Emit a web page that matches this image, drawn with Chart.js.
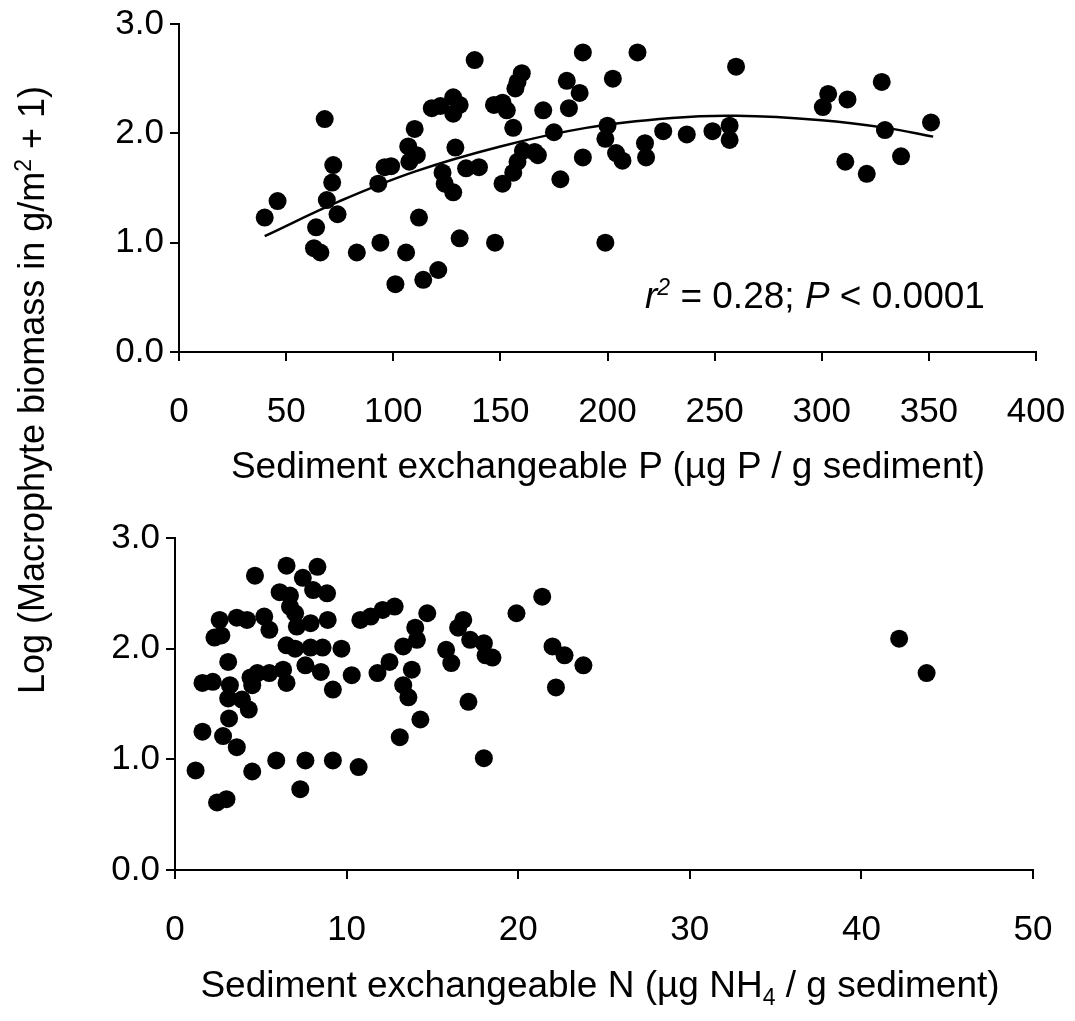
<!DOCTYPE html>
<html>
<head>
<meta charset="utf-8">
<title>Macrophyte biomass vs sediment nutrients</title>
<script src="https://cdn.jsdelivr.net/npm/chart.js@4.4.1/dist/chart.umd.min.js"></script>
<style>
  body { margin: 0; background: #fff; }
  #wrap { position: relative; width: 1075px; height: 1021px; overflow: hidden;
          font-family: "Liberation Sans", Arial, sans-serif; color: #000; }
  canvas { position: absolute; left: 0; }
  .txt { position: absolute; font-size: 37px; line-height: 40px; white-space: nowrap; }
  .ytitle { left: -318px; top: 370px; width: 700px; text-align: center; transform: rotate(-90deg); font-size: 36px; }
  .xtitle { width: 1000px; text-align: center; }
  sup, sub { font-size: 23px; line-height: 0; }
</style>
</head>
<body>
<div id="wrap">
  <canvas id="topChart" width="1075" height="500" style="top:0"></canvas>
  <canvas id="bottomChart" width="1075" height="521" style="top:500px"></canvas>
  <div class="txt ytitle">Log (Macrophyte biomass in g/m<sup>2</sup> + 1)</div>
  <div class="txt xtitle" style="left:108px; top:446px">Sediment exchangeable P (µg P / g sediment)</div>
  <div class="txt xtitle" style="left:100px; top:965px">Sediment exchangeable N (µg NH<sub>4</sub> / g sediment)</div>
  <div class="txt" style="left:645px; top:276px"><i>r</i><sup><i>2</i></sup> = 0.28; <i>P</i> &lt; 0.0001</div>
</div>
<script>
// exchangeable P (µg P / g sediment) and log biomass for each site
const phosX = [40, 46, 63, 64, 66, 68, 69, 71.5, 72, 74, 83, 93, 94, 96, 99, 101, 106, 107, 107.5, 110,
  111, 112, 114, 118, 121, 122, 123, 124, 128, 128, 128, 129, 131, 131, 134, 138, 140, 147, 147.5, 151,
  151, 153, 156, 156, 157, 158, 158, 160, 160.5, 166, 167.5, 170, 175, 178, 181, 182, 187, 188.5, 188.5, 199,
  199, 200, 202.5, 204, 207, 214, 217.5, 218, 226, 237, 249, 257, 257, 260, 300.5, 303, 311, 312, 321, 328,
  329.5, 337, 351];
const phosBiomass = [1.23, 1.38, 0.95, 1.14, 0.91, 2.13, 1.39, 1.55, 1.71, 1.26, 0.91, 1.54, 1.00, 1.69, 1.70, 0.62, 0.91, 1.88, 1.74, 2.04,
  1.80, 1.23, 0.66, 2.23, 0.75, 2.25, 1.64, 1.54, 2.33, 2.18, 1.46, 1.87, 2.26, 1.04, 1.68, 2.67, 1.69, 2.26, 1.00, 2.28,
  1.54, 2.21, 2.05, 1.64, 2.41, 1.74, 2.47, 2.55, 1.84, 1.83, 1.80, 2.21, 2.01, 1.58, 2.48, 2.23, 2.37, 2.74, 1.78, 1.95,
  1.00, 2.07, 2.50, 1.82, 1.75, 2.74, 1.91, 1.78, 2.02, 1.99, 2.02, 2.07, 1.94, 2.61, 2.24, 2.36, 1.74, 2.31, 1.63, 2.47,
  2.03, 1.79, 2.10];

const fitX = [40, 75, 110, 150, 190, 230, 260, 300, 330, 352];
const fitY = [1.06, 1.38, 1.65, 1.88, 2.05, 2.14, 2.16, 2.12, 2.05, 1.97];

// exchangeable NH4 (µg NH4 / g sediment) and log biomass
const nitroX = [1.2, 1.6, 1.6, 2.2, 2.3, 2.45, 2.6, 2.7, 2.8, 3.0, 3.1, 3.1, 3.15, 3.2, 3.6, 3.6, 3.9, 4.2, 4.3, 4.4,
  4.5, 4.5, 4.66, 4.8, 5.2, 5.5, 5.5, 5.9, 6.1, 6.3, 6.5, 6.5, 6.5, 6.7, 6.7, 7.0, 7.0, 7.1, 7.3, 7.45,
  7.6, 7.6, 7.9, 7.9, 8.05, 8.3, 8.5, 8.6, 8.86, 8.9, 9.2, 9.2, 9.7, 10.3, 10.7, 10.8, 11.4, 11.8, 12.1, 12.5,
  12.8, 13.1, 13.3, 13.3, 13.6, 13.8, 14.0, 14.1, 14.3, 14.7, 15.8, 16.1, 16.5, 16.8, 17.1, 17.2, 18.0, 18.0, 18.1, 18.5,
  19.9, 21.4, 22.0, 22.2, 22.7, 23.8, 42.2, 43.8];
const nitroBiomass = [0.90, 1.25, 1.69, 1.70, 2.10, 0.61, 2.26, 2.12, 1.21, 0.64, 1.88, 1.55, 1.37, 1.67, 1.11, 2.28, 1.54, 2.26, 1.45, 1.74,
  0.89, 1.67, 2.66, 1.78, 2.29, 2.17, 1.78, 0.99, 2.51, 1.81, 2.75, 2.03, 1.69, 2.48, 2.38, 2.32, 2.00, 2.20, 0.73, 2.64,
  1.85, 0.99, 2.23, 2.01, 2.53, 2.74, 1.79, 2.01, 2.50, 2.26, 1.63, 0.99, 2.00, 1.76, 0.93, 2.26, 2.29, 1.78, 2.35, 1.88,
  2.38, 1.20, 2.02, 1.67, 1.56, 1.81, 2.19, 2.08, 1.36, 2.32, 1.99, 1.87, 2.19, 2.26, 1.52, 2.08, 2.05, 1.01, 1.94, 1.92,
  2.32, 2.47, 2.02, 1.65, 1.94, 1.85, 2.09, 1.78];

const yRange = [0, 3];
const phosRange = [0, 400];
const nitroRange = [0, 50];

const FONT = { family: '"Liberation Sans", Arial, sans-serif', size: 35 };

const toPoints = (xs, ys) => xs.map((x, i) => ({ x: x, y: ys[i] }));

// shared axis look: black frame, outward ticks, no grid inside
const axisBase = (min, max, step) => ({
  type: 'linear',
  min: min,
  max: max,
  border: { display: true, color: '#000', width: 2 },
  grid: { drawOnChartArea: false, drawTicks: true, tickLength: 9, color: '#000', lineWidth: 2 },
  ticks: { stepSize: step, color: '#000', font: FONT },
});

// fixed axis sizes so both plot areas sit where they should
const makeScales = (xRange, xStep, yWidth, xHeight) => {
  const x = axisBase(xRange[0], xRange[1], xStep);
  x.ticks.padding = 30;
  x.afterFit = (s) => { s.height = xHeight; s.paddingLeft = 0; s.paddingRight = 0; };
  const y = axisBase(yRange[0], yRange[1], 1);
  y.ticks.padding = 6;
  y.ticks.callback = (v) => v.toFixed(1);
  y.afterFit = (s) => { s.width = yWidth; s.paddingTop = 0; s.paddingBottom = 0; };
  return { x: x, y: y };
};

const baseOptions = (scales, padding) => ({
  responsive: false,
  animation: false,
  devicePixelRatio: 1,
  layout: { padding: padding },
  plugins: { legend: { display: false }, tooltip: { enabled: false } },
  scales: scales,
});

const dotStyle = {
  pointRadius: 9,
  pointBackgroundColor: '#000',
  pointBorderWidth: 0,
  showLine: false,
};

new Chart(document.getElementById('topChart'), {
  type: 'scatter',
  data: {
    datasets: [
      Object.assign({ data: toPoints(phosX, phosBiomass) }, dotStyle),
      {
        type: 'line',
        data: toPoints(fitX, fitY),
        borderColor: '#000',
        borderWidth: 2.5,
        pointRadius: 0,
        tension: 0.4,
        fill: false,
      },
    ],
  },
  options: baseOptions(makeScales(phosRange, 50, 179, 148), { top: 24, right: 39, left: 0, bottom: 0 }),
});

new Chart(document.getElementById('bottomChart'), {
  type: 'scatter',
  data: {
    datasets: [Object.assign({ data: toPoints(nitroX, nitroBiomass) }, dotStyle)],
  },
  options: baseOptions(makeScales(nitroRange, 10, 175, 151), { top: 38, right: 42, left: 0, bottom: 0 }),
});
</script>
</body>
</html>
